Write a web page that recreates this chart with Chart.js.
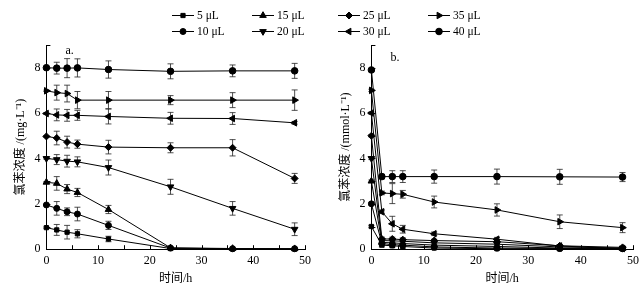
<!DOCTYPE html>
<html>
<head>
<meta charset="utf-8">
<script src="https://cdn.jsdelivr.net/npm/chart.js@4"></script>
<style>
  body { margin: 0; background: #fff; }
  #wrap { position: relative; width: 643px; height: 290px; overflow: hidden; }
  #chartA { position: absolute; left: 0; top: 0; }
  #chartB { position: absolute; left: 325px; top: 0; }
  .lg { position: absolute; height: 14px; font: 11.5px "Liberation Serif", serif; color: #000; white-space: nowrap; }
  .lg canvas { position: absolute; left: 0; top: 2px; }
  .lg span { position: absolute; left: 25px; top: 0; line-height: 14px; }
</style>
</head>
<body>
<div id="wrap">
  <canvas id="chartA" width="333" height="290"></canvas>
  <canvas id="chartB" width="318" height="290"></canvas>
  <div id="legend"></div>
</div>
<script>
// sampling times (h)
var Times = [0, 2, 4, 6, 12, 24, 36, 48]
var Labels = ['5 μL', '10 μL', '15 μL', '20 μL', '25 μL', '30 μL', '35 μL', '40 μL']

// panel a: mg/L
var A_5  = [0.95, 0.85, 0.75, 0.68, 0.45, 0.03, 0.01, 0.01]
var A_10 = [1.95, 1.8, 1.65, 1.55, 1.05, 0.05, 0.02, 0.02]
var A_15 = [2.95, 2.9, 2.65, 2.5, 1.75, 0.06, 0.03, 0.02]
var A_20 = [4.0, 3.95, 3.88, 3.85, 3.6, 2.75, 1.8, 0.88]
var A_25 = [4.97, 4.9, 4.72, 4.63, 4.5, 4.47, 4.47, 3.12]
var A_30 = [5.98, 5.92, 5.9, 5.9, 5.85, 5.77, 5.76, 5.57]
var A_35 = [6.98, 6.9, 6.86, 6.57, 6.57, 6.57, 6.57, 6.57]
var A_40 = [8.0, 7.98, 7.98, 7.99, 7.92, 7.84, 7.86, 7.86]

var ErrA_5  = [0.03, 0.24, 0.3, 0.18, 0.12, 0.03, 0.02, 0.02]
var ErrA_10 = [0.03, 0.3, 0.17, 0.3, 0.18, 0.03, 0.02, 0.02]
var ErrA_15 = [0.03, 0.3, 0.2, 0.18, 0.18, 0.04, 0.02, 0.02]
var ErrA_20 = [0.03, 0.22, 0.26, 0.22, 0.33, 0.33, 0.3, 0.28]
var ErrA_25 = [0.03, 0.3, 0.26, 0.18, 0.3, 0.22, 0.36, 0.22]
var ErrA_30 = [0.03, 0.26, 0.26, 0.22, 0.33, 0.26, 0.26, 0.06]
var ErrA_35 = [0.03, 0.33, 0.37, 0.38, 0.38, 0.2, 0.33, 0.45]
var ErrA_40 = [0.05, 0.26, 0.42, 0.4, 0.38, 0.33, 0.26, 0.33]

// panel b: mmol/L
var B_5  = [1.0, 0.18, 0.15, 0.12, 0.05, 0.02, 0.01, 0.01]
var B_10 = [2.0, 0.25, 0.2, 0.18, 0.1, 0.05, 0.03, 0.02]
var B_15 = [3.0, 0.3, 0.28, 0.25, 0.18, 0.12, 0.05, 0.03]
var B_20 = [4.0, 0.38, 0.37, 0.35, 0.28, 0.22, 0.1, 0.05]
var B_25 = [5.0, 0.45, 0.45, 0.42, 0.38, 0.33, 0.15, 0.08]
var B_30 = [6.0, 1.65, 1.12, 0.88, 0.68, 0.44, 0.14, 0.03]
var B_35 = [7.0, 2.48, 2.45, 2.42, 2.08, 1.73, 1.21, 0.95]
var B_40 = [7.9, 3.2, 3.2, 3.2, 3.2, 3.2, 3.19, 3.18]

var ErrB_low = [0.05, 0.08, 0.08, 0.08, 0.06, 0.05, 0.04, 0.03]
var ErrB_30 = [0.05, 0.08, 0.33, 0.17, 0.08, 0.08, 0.05, 0.03]
var ErrB_35 = [0.05, 0.08, 0.44, 0.17, 0.26, 0.27, 0.3, 0.22]
var ErrB_40 = [0.05, 0.1, 0.26, 0.26, 0.29, 0.33, 0.33, 0.2]

// marker per volume
var Markers = [
    { style: 'rect', radius: 3, rotation: 0 },
    { style: 'circle', radius: 3, rotation: 0 },
    { style: 'triangle', radius: 3.8, rotation: 0 },
    { style: 'triangle', radius: 3.8, rotation: 180 },
    { style: 'rectRot', radius: 3.5, rotation: 0 },
    { style: 'triangle', radius: 3.8, rotation: -90 },
    { style: 'triangle', radius: 3.8, rotation: 90 },
    { style: 'circle', radius: 3.3, rotation: 0 }
]

var SERIF = '"Liberation Serif", "Noto Sans CJK SC", serif'

function MakeDatasets(values, errors) {
    var result = []
    for (var i = 0; i < values.length; i++) {
        var pts = []
        for (var j = 0; j < Times.length; j++) pts.push({ x: Times[j], y: values[i][j] })
        result.push({
            label: Labels[i],
            data: pts,
            errors: errors[i],
            borderColor: '#000',
            backgroundColor: '#000',
            borderWidth: 1,
            pointStyle: Markers[i].style,
            pointRadius: Markers[i].radius,
            pointRotation: Markers[i].rotation,
            pointBorderWidth: 1,
            tension: 0,
            clip: false
        })
    }
    return result
}

var ErrorBars = {
    id: 'ErrorBars',
    beforeDatasetsDraw: function (chart) {
        var ctx = chart.ctx, y = chart.scales.y
        ctx.save()
        ctx.strokeStyle = '#222'
        ctx.lineWidth = 0.8
        chart.data.datasets.forEach(function (ds, di) {
            var meta = chart.getDatasetMeta(di)
            meta.data.forEach(function (pt, i) {
                var e = ds.errors[i]
                if (!e) return
                var yt = y.getPixelForValue(ds.data[i].y + e)
                var yb = y.getPixelForValue(ds.data[i].y - e)
                ctx.beginPath()
                ctx.moveTo(pt.x, yt); ctx.lineTo(pt.x, yb)
                ctx.moveTo(pt.x - 3, yt); ctx.lineTo(pt.x + 3, yt)
                ctx.moveTo(pt.x - 3, yb); ctx.lineTo(pt.x + 3, yb)
                ctx.stroke()
            })
        })
        ctx.restore()
    }
}

// inward ticks + panel letter
function InnerTicks(letter, dy) {
    return {
        id: 'InnerTicks',
        afterDraw: function (chart) {
            var ctx = chart.ctx, a = chart.chartArea
            var x = chart.scales.x, y = chart.scales.y
            ctx.save()
            ctx.strokeStyle = '#000'
            ctx.lineWidth = 1
            ctx.beginPath()
            x.ticks.forEach(function (t) {
                var px = Math.round(x.getPixelForValue(t.value)) + 0.5
                ctx.moveTo(px, a.bottom); ctx.lineTo(px, a.bottom - 4)
            })
            y.ticks.forEach(function (t) {
                var py = Math.round(y.getPixelForValue(t.value)) + 0.5
                ctx.moveTo(a.left, py); ctx.lineTo(a.left + 4, py)
            })
            ctx.stroke()
            ctx.fillStyle = '#000'
            ctx.font = '12px ' + SERIF
            ctx.textBaseline = 'top'
            ctx.fillText(letter, a.left + 19, a.top + dy)
            ctx.restore()
        }
    }
}

function PanelConfig(datasets, yTitle, letter, dy, padRight) {
    return {
        type: 'line',
        data: { datasets: datasets },
        plugins: [ErrorBars, InnerTicks(letter, dy)],
        options: {
            responsive: false,
            animation: false,
            layout: { padding: { left: 14, top: 45, right: padRight, bottom: 4 } },
            plugins: { legend: { display: false }, tooltip: { enabled: false } },
            scales: {
                x: {
                    type: 'linear', min: 0, max: 50,
                    grid: { display: true, drawOnChartArea: false, drawTicks: false },
                    border: { display: true, color: '#000', width: 1 },
                    ticks: {
                        stepSize: 5, color: '#000', padding: 4, maxRotation: 0, autoSkip: false,
                        font: { family: SERIF, size: 12 },
                        callback: function (v) { return v % 10 === 0 ? v : '' }
                    },
                    title: { display: true, text: '时间/h', color: '#000', padding: { top: 0, bottom: 0 }, font: { family: SERIF, size: 12 } }
                },
                y: {
                    min: 0, max: 9,
                    grid: { display: true, drawOnChartArea: false, drawTicks: false },
                    border: { display: true, color: '#000', width: 1 },
                    ticks: {
                        stepSize: 1, color: '#000', padding: 6, autoSkip: false,
                        font: { family: SERIF, size: 12 },
                        callback: function (v) { return v % 2 === 0 ? v : '' }
                    },
                    title: { display: true, text: yTitle, color: '#000', padding: { top: 0, bottom: 0 }, font: { family: SERIF, size: 12 } }
                }
            }
        }
    }
}

var DataA = [A_5, A_10, A_15, A_20, A_25, A_30, A_35, A_40]
var ErrA = [ErrA_5, ErrA_10, ErrA_15, ErrA_20, ErrA_25, ErrA_30, ErrA_35, ErrA_40]
var DataB = [B_5, B_10, B_15, B_20, B_25, B_30, B_35, B_40]
var ErrB = [ErrB_low, ErrB_low, ErrB_low, ErrB_low, ErrB_low, ErrB_30, ErrB_35, ErrB_40]

var ChartA = new Chart(document.getElementById('chartA').getContext('2d'),
    PanelConfig(MakeDatasets(DataA, ErrA), '氯苯浓度 /(mg·L⁻¹)', 'a.', 0, 28))
var ChartB = new Chart(document.getElementById('chartB').getContext('2d'),
    PanelConfig(MakeDatasets(DataB, ErrB), '氯苯浓度 /(mmol·L⁻¹)', 'b.', 7, 5))

//==================== legend (4 columns x 2 rows)
var LegendCols = [172, 252, 338, 428]
var LegendRows = [8, 24]
var LegendEl = document.getElementById('legend')
for (var k = 0; k < Labels.length; k++) {
    var col = Math.floor(k / 2), row = k % 2
    var item = document.createElement('div')
    item.className = 'lg'
    item.style.left = LegendCols[col] + 'px'
    item.style.top = LegendRows[row] + 'px'
    var cv = document.createElement('canvas')
    cv.width = 22; cv.height = 10
    item.appendChild(cv)
    var sp = document.createElement('span')
    sp.textContent = Labels[k]
    item.appendChild(sp)
    LegendEl.appendChild(item)
    var c = cv.getContext('2d')
    c.strokeStyle = '#000'; c.fillStyle = '#000'; c.lineWidth = 1
    c.beginPath(); c.moveTo(0, 5.5); c.lineTo(22, 5.5); c.stroke()
    if (Chart.helpers && Chart.helpers.drawPoint) {
        Chart.helpers.drawPoint(c, {
            pointStyle: Markers[k].style, radius: Markers[k].radius,
            rotation: Markers[k].rotation, borderWidth: 1
        }, 11, 5.5)
    } else {
        c.beginPath(); c.arc(11, 5.5, 3, 0, Math.PI * 2); c.fill()
    }
}
</script>
</body>
</html>
